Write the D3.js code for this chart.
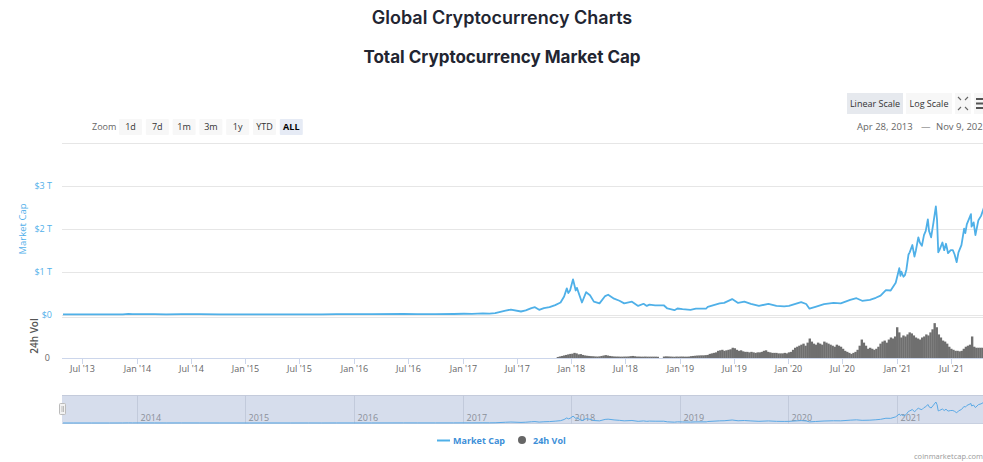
<!DOCTYPE html>
<html><head><meta charset="utf-8">
<script src="https://cdn.jsdelivr.net/npm/d3@7/dist/d3.min.js"></script>
<style>html,body{margin:0;padding:0;background:#fff;overflow:hidden}</style>
</head><body>
<svg id="c" width="983" height="462"></svg>
<script>
// ---------- DATA ----------
const capDates = [
 "2013-04-28","2013-06-01","2013-08-01","2013-10-01","2013-11-15","2013-12-04","2013-12-18",
 "2014-01-05","2014-02-01","2014-03-01","2014-04-10","2014-06-01","2014-08-01","2014-10-05","2014-12-01",
 "2015-01-14","2015-03-01","2015-06-01","2015-08-01","2015-09-15","2015-11-04",
 "2016-01-01","2016-03-01","2016-06-16","2016-08-01","2016-10-01","2016-12-01",
 "2017-01-05","2017-02-01","2017-03-10","2017-04-01","2017-04-20","2017-05-25","2017-06-12","2017-07-16",
 "2017-08-01","2017-08-20","2017-09-01","2017-09-15","2017-10-01","2017-10-20","2017-11-08","2017-11-26",
 "2017-12-08","2017-12-17","2017-12-22","2017-12-28",
 "2018-01-07","2018-01-16","2018-01-20","2018-02-06","2018-02-20","2018-03-05","2018-03-18","2018-04-06",
 "2018-04-25","2018-05-05","2018-05-25","2018-06-12","2018-06-28","2018-07-24","2018-08-14","2018-09-01",
 "2018-09-12","2018-09-21","2018-10-10","2018-11-08","2018-11-20","2018-12-14","2018-12-24",
 "2019-01-10","2019-02-06","2019-02-24","2019-03-31","2019-04-05","2019-05-15","2019-05-30","2019-06-26",
 "2019-07-16","2019-08-06","2019-08-28","2019-09-24","2019-10-26","2019-11-22","2019-12-18",
 "2020-01-03","2020-02-13","2020-03-01","2020-03-12","2020-04-01","2020-04-30","2020-06-01","2020-06-25",
 "2020-07-27","2020-08-17","2020-09-05","2020-10-01","2020-10-21","2020-11-06","2020-11-24","2020-12-10",
 "2020-12-27",
 "2021-01-08","2021-01-12","2021-01-15","2021-01-22","2021-01-27","2021-02-01","2021-02-08","2021-02-12",
 "2021-02-21","2021-02-28","2021-03-05","2021-03-13","2021-03-18","2021-03-25","2021-04-01","2021-04-07",
 "2021-04-14","2021-04-18","2021-04-25","2021-05-03","2021-05-11","2021-05-15","2021-05-19","2021-05-23",
 "2021-06-02","2021-06-08","2021-06-14","2021-06-21","2021-06-30","2021-07-07","2021-07-13","2021-07-20",
 "2021-07-26","2021-08-05","2021-08-14","2021-08-18","2021-08-23","2021-09-06","2021-09-08","2021-09-15",
 "2021-09-21","2021-10-01","2021-10-10","2021-10-20","2021-11-09"
];
// market cap, billions USD
const capValues = [
 1.5,1.3,1.3,1.8,5,14,8,
 11,10,8,5,8,7.5,4.5,5,
 3,3.8,3.5,4.5,3.5,6.5,
 7,7.5,12,9.5,10,12,
 17,16,24,20,30,90,115,70,
 95,150,170,110,150,170,220,280,
 420,610,500,560,
 820,560,620,280,520,450,300,260,
 430,460,370,320,260,300,200,250,
 200,230,215,215,140,100,140,
 125,110,135,140,180,260,270,360,
 270,300,250,200,250,200,190,
 200,290,245,135,180,240,270,260,
 340,380,320,340,390,440,570,560,
 740,
 1080,900,1000,880,920,1050,1400,1450,
 1620,1350,1500,1800,1680,1600,1850,1950,
 2220,1950,1800,2150,2520,2200,1450,1500,
 1680,1500,1650,1430,1500,1500,1400,1220,
 1450,1620,2000,1900,2100,2340,2050,2150,
 1850,2200,2300,2500,2900
];
// weekly 24h volume, billions USD, first week starting volStart
const volStart = "2017-11-13";
const volValues = [
 10,15,20,25,30,35,40,
 42,50,45,35,38,30,25,22,20,18,17,15,14,
 16,20,24,28,24,20,17,15,14,14,13,13,14,
 14,15,18,20,17,14,14,13,13,14,13,13,13,
 13,13,12,0,0,14,16,15,14,13,12,14,13,
 14,14,13,13,14,18,20,22,24,25,26,26,28,
 30,40,45,50,55,70,75,80,70,75,80,85,100,
 95,80,70,75,65,60,60,55,60,55,50,55,55,
 60,70,75,60,55,50,50,50,45,45,45,50,45,
 55,60,80,100,110,120,130,140,120,150,190,160,140,
 130,150,140,130,160,150,140,130,120,110,130,120,110,
 90,70,60,50,40,50,60,80,120,180,150,120,90,
 100,90,80,90,110,140,160,170,150,180,200,190,210,
 300,250,200,220,210,230,250,240,220,200,190,180,200,
 210,230,220,250,280,340,300,230,200,170,160,140,110,
 90,80,70,70,65,70,90,110,120,130,210,110,100,
 100,100,100,110,120,110
];
const capGrid = [0,1000,2000,3000,4000];
const capTickLabels = ["$0","$1 T","$2 T","$3 T"];
const xTickDates = ["2013-07-01","2014-01-01","2014-07-01","2015-01-01","2015-07-01","2016-01-01","2016-07-01",
 "2017-01-01","2017-07-01","2018-01-01","2018-07-01","2019-01-01","2019-07-01","2020-01-01","2020-07-01",
 "2021-01-01","2021-07-01"];
const navYears = ["2014","2015","2016","2017","2018","2019","2020","2021"];
const zoomButtons = ["1d","7d","1m","3m","1y","YTD","ALL"];
const dateStart = "2013-04-28", dateEnd = "2021-11-09";

// ---------- CHART ----------
const parse = d3.utcParse("%Y-%m-%d");
const svg = d3.select("#c");
const font = "'Open Sans', 'DejaVu Sans', sans-serif";
const blue = "#4fb0e8";

const x = d3.scaleUtc().domain([parse(dateStart), parse(dateEnd)]).range([63, 990]);
const yCap = d3.scaleLinear().domain([0, 4000]).range([314.5, 143]);
const yVol = d3.scaleLinear().domain([0, 400]).range([358, 317]);

// Titles
svg.append("text").attr("x", 502).attr("y", 24).attr("text-anchor", "middle")
  .attr("font-family", "Inter, 'Open Sans', sans-serif").attr("font-size", 18).attr("font-weight", 600)
  .attr("fill", "#222531").text("Global Cryptocurrency Charts");
svg.append("text").attr("x", 502).attr("y", 63).attr("text-anchor", "middle")
  .attr("font-family", "Inter, 'Open Sans', sans-serif").attr("font-size", 17).attr("font-weight", 700)
  .attr("fill", "#222531").text("Total Cryptocurrency Market Cap");

// Top-right buttons
const tb = svg.append("g").attr("font-family", font).attr("font-size", 9).attr("fill", "#333");
tb.append("rect").attr("x", 847).attr("y", 93).attr("width", 56).attr("height", 21).attr("fill", "#e6e9ee");
tb.append("text").attr("x", 875).attr("y", 106.5).attr("text-anchor", "middle").text("Linear Scale");
tb.append("rect").attr("x", 906).attr("y", 93).attr("width", 46).attr("height", 21).attr("fill", "#f7f7f7");
tb.append("text").attr("x", 929).attr("y", 106.5).attr("text-anchor", "middle").text("Log Scale");
tb.append("rect").attr("x", 955).attr("y", 93).attr("width", 16).attr("height", 21).attr("fill", "#f7f7f7");
tb.append("path").attr("fill", "none").attr("stroke", "#666").attr("stroke-width", 1.1)
  .attr("d", "M958,97 L961,100 M968,97 L965,100 M958,110 L961,107 M968,110 L965,107");
tb.append("rect").attr("x", 974).attr("y", 93).attr("width", 16).attr("height", 21).attr("fill", "#f7f7f7");
[99,103.5,108].forEach(yy => tb.append("rect").attr("x", 976).attr("y", yy-1).attr("width", 12).attr("height", 2).attr("fill", "#555"));

// Zoom buttons
const zb = svg.append("g").attr("font-family", font).attr("font-size", 9);
zb.append("text").attr("x", 92).attr("y", 130).attr("fill", "#666").text("Zoom");
zoomButtons.forEach((b, i) => {
  const bx = 119 + i * 26.8;
  const active = b === "ALL";
  zb.append("rect").attr("x", bx).attr("y", 119).attr("width", 23).attr("height", 16).attr("rx", 1)
    .attr("fill", active ? "#e6ebf5" : "#f7f7f7");
  zb.append("text").attr("x", bx + 11.5).attr("y", 130).attr("text-anchor", "middle")
    .attr("fill", active ? "#000" : "#333").attr("font-weight", active ? 700 : 400).text(b);
});
// Date range
const fmtRange = d3.utcFormat("%b %-d, %Y");
const dr = svg.append("g").attr("font-family", font).attr("font-size", 9.5).attr("fill", "#666");
dr.append("text").attr("x", 857).attr("y", 130).text(fmtRange(parse(dateStart)));
dr.append("text").attr("x", 921).attr("y", 130).text("\u2014");
dr.append("text").attr("x", 936).attr("y", 130).text(fmtRange(parse(dateEnd)));

// Gridlines
const grid = svg.append("g");
capGrid.forEach(v => grid.append("line").attr("x1", 62).attr("x2", 983).attr("y1", Math.round(yCap(v)) + 0.5)
  .attr("y2", Math.round(yCap(v)) + 0.5).attr("stroke", "#e6e6e6"));
grid.append("line").attr("x1", 62).attr("x2", 983).attr("y1", 317.5).attr("y2", 317.5).attr("stroke", "#e6e6e6");

// Y labels
const yl = svg.append("g").attr("font-family", font).attr("font-size", 9).attr("fill", "#52b0ea");
capTickLabels.forEach((t, i) => yl.append("text").attr("x", 52).attr("y", yCap(capGrid[i]) + 3.5)
  .attr("text-anchor", "end").text(t));
svg.append("text").attr("x", 50).attr("y", 361).attr("text-anchor", "end").attr("font-family", font)
  .attr("font-size", 9).attr("fill", "#666").text("0");
svg.append("text").attr("transform", "translate(26,229) rotate(-90)").attr("text-anchor", "middle")
  .attr("font-family", font).attr("font-size", 9.5).attr("fill", "#52b0ea").text("Market Cap");
svg.append("text").attr("transform", "translate(38,336) rotate(-90)").attr("text-anchor", "middle")
  .attr("font-family", font).attr("font-size", 10).attr("fill", "#555").attr("font-weight", 600).text("24h Vol");

// Volume bars
const dayMs = 86400000;
const v0 = parse(volStart);
const volData = volValues.map((v, i) => ({ d: new Date(v0.getTime() + i * 7 * dayMs), v }));
const bw = x(new Date(v0.getTime() + 7 * dayMs)) - x(v0);
svg.append("g").selectAll("rect").data(volData).join("rect")
  .attr("x", d => x(d.d)).attr("width", bw + 0.3)
  .attr("y", d => yVol(d.v)).attr("height", d => yVol(0) - yVol(d.v))
  .attr("fill", "#6f6f6f");

// Market cap line
const capData = capDates.map((d, i) => ({ d: parse(d), v: capValues[i] }));
svg.append("path").datum(capData).attr("fill", "none").attr("stroke", blue).attr("stroke-width", 1.8)
  .attr("stroke-linejoin", "round")
  .attr("d", d3.line().x(d => x(d.d)).y(d => yCap(d.v)));

// X axis
svg.append("line").attr("x1", 62).attr("x2", 983).attr("y1", 358.5).attr("y2", 358.5).attr("stroke", "#ccd6eb");
const fmtTick = d3.utcFormat("%b '%y");
const xa = svg.append("g").attr("font-family", font).attr("font-size", 9).attr("fill", "#666");
xTickDates.forEach(s => {
  const px = Math.round(x(parse(s))) + 0.5;
  xa.append("line").attr("x1", px).attr("x2", px).attr("y1", 358).attr("y2", 364).attr("stroke", "#ccd6eb");
  xa.append("text").attr("x", px).attr("y", 372).attr("text-anchor", "middle").text(fmtTick(parse(s)));
});

// Navigator
const yNav = d3.scaleLinear().domain([0, 3000]).range([423, 398]);
const nav = svg.append("g");
nav.append("rect").attr("x", 62).attr("y", 395).attr("width", 930).attr("height", 29).attr("fill", "#d6ddec");
nav.append("line").attr("x1", 62).attr("x2", 983).attr("y1", 395.5).attr("y2", 395.5).attr("stroke", "#c4cbdb");
nav.append("line").attr("x1", 62).attr("x2", 983).attr("y1", 423.5).attr("y2", 423.5).attr("stroke", "#c8d0e0");
navYears.forEach(yr => {
  const px = Math.round(x(parse(yr + "-01-01"))) + 0.5;
  nav.append("line").attr("x1", px).attr("x2", px).attr("y1", 395).attr("y2", 424).attr("stroke", "#c2cadb");
  nav.append("text").attr("x", px + 3).attr("y", 421).attr("font-family", font).attr("font-size", 9)
    .attr("fill", "#8a8f99").text(yr);
});
nav.append("path").datum(capData).attr("fill", "none").attr("stroke", "#5aa9e6").attr("stroke-width", 1)
  .attr("d", d3.line().x(d => x(d.d)).y(d => yNav(d.v)));
nav.append("rect").attr("x", 59.5).attr("y", 403.5).attr("width", 6).attr("height", 11).attr("rx", 1)
  .attr("fill", "#f2f2f2").attr("stroke", "#bbb");
nav.append("line").attr("x1", 62).attr("x2", 62).attr("y1", 406).attr("y2", 412).attr("stroke", "#bbb");
nav.append("line").attr("x1", 63.5).attr("x2", 63.5).attr("y1", 406).attr("y2", 412).attr("stroke", "#bbb");

// Legend
const lg = svg.append("g").attr("font-family", font).attr("font-size", 9).attr("font-weight", 700).attr("fill", "#3d8fd8");
lg.append("line").attr("x1", 437).attr("x2", 450).attr("y1", 440.5).attr("y2", 440.5).attr("stroke", blue).attr("stroke-width", 2);
lg.append("text").attr("x", 453).attr("y", 443.5).text("Market Cap");
lg.append("circle").attr("cx", 522).attr("cy", 440).attr("r", 4).attr("fill", "#666");
lg.append("text").attr("x", 533).attr("y", 443.5).text("24h Vol");

// Credit
svg.append("text").attr("x", 983).attr("y", 459).attr("text-anchor", "end").attr("font-family", font)
  .attr("font-size", 7.5).attr("fill", "#999").text("coinmarketcap.com");
</script>
</body></html>
